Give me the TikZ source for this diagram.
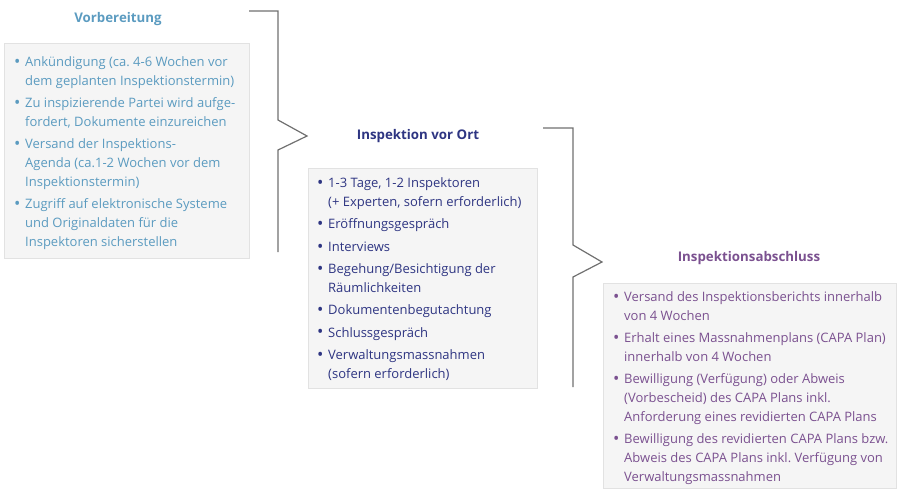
\documentclass[tikz,border=0pt]{standalone}
\usepackage{fontspec}
\setmainfont{Open Sans}
\frenchspacing
\definecolor{cblue}{HTML}{5B9BC0}
\definecolor{cnavy}{HTML}{2E3582}
\definecolor{cpurp}{HTML}{7B5190}
\definecolor{cline}{HTML}{707070}
\definecolor{cfill}{HTML}{F5F5F5}
\definecolor{cedge}{HTML}{E2E2E2}
\newcommand\bu{\makebox[11pt][l]{\raisebox{-0.9pt}{\scalebox{1.3}{\textbullet}}}}
\newcommand\ci{\hspace*{11pt}}
\tikzset{
  panel/.style={draw=cedge, fill=cfill, line width=1pt, anchor=north west, inner sep=0pt},
  title/.style={font=\fontsize{13.3}{15}\selectfont\bfseries, inner sep=0pt},
  list/.style={anchor=north west, inner sep=0pt, align=left, font=\fontsize{13}{19}\selectfont}
}
\tikzset{bracket/.style={draw=cline, line width=1.2pt}}
\begin{document}
\begin{tikzpicture}[x=1pt,y=-1pt]
\useasboundingbox (0,0) rectangle (903,491);
% panels
\node[panel, minimum width=245, minimum height=215] (p1) at (4,43) {};
\node[panel, minimum width=229, minimum height=220] (p2) at (308,168) {};
\node[panel, minimum width=293, minimum height=205] (p3) at (603,283) {};
% titles
\node[title, text=cblue] (t1) at (118,19) {Vorbereitung};
\node[title, text=cnavy] (t2) at (418,136) {Inspektion vor Ort};
\node[title, text=cpurp] (t3) at (749,258) {Inspektionsabschluss};
% lists
\node[list, text=cblue] (l1) at (14,56.5) {%
\bu Ankündigung (ca. 4-6 Wochen vor\\\ci dem geplanten Inspektionstermin)\\[3pt]
\bu Zu inspizierende Partei wird aufge-\\\ci fordert, Dokumente einzureichen\\[3pt]
\bu Versand der Inspektions-\\\ci Agenda (ca.1-2 Wochen vor dem\\\ci Inspektionstermin)\\[3pt]
\bu Zugriff auf elektronische Systeme\\\ci und Originaldaten für die\\\ci Inspektoren sicherstellen};
\node[list, text=cnavy] (l2) at (317,177.5) {%
\bu 1-3 Tage, 1-2 Inspektoren\\\ci (+ Experten, sofern erforderlich)\\[3.3pt]
\bu Eröffnungsgespräch\\[3.3pt]
\bu Interviews\\[3.3pt]
\bu Begehung/Besichtigung der\\\ci Räumlichkeiten\\[3.3pt]
\bu Dokumentenbegutachtung\\[3.3pt]
\bu Schlussgespräch\\[3.3pt]
\bu Verwaltungsmassnahmen\\\ci (sofern erforderlich)};
\node[list, text=cpurp] (l3) at (613,291.5) {%
\bu Versand des Inspektionsberichts innerhalb\\\ci von 4 Wochen\\[3pt]
\bu Erhalt eines Massnahmenplans (CAPA Plan)\\\ci innerhalb von 4 Wochen\\[3pt]
\bu Bewilligung (Verfügung) oder Abweis\\\ci (Vorbescheid) des CAPA Plans inkl.\\\ci Anforderung eines revidierten CAPA Plans\\[3pt]
\bu Bewilligung des revidierten CAPA Plans bzw.\\\ci Abweis des CAPA Plans inkl. Verfügung von\\\ci Verwaltungsmassnahmen};
% brackets
\coordinate (a0) at (249,11);
\coordinate (a1) at (278,11);
\coordinate (a2) at (278,120);
\coordinate (a3) at (307,136);
\coordinate (a4) at (278,150);
\coordinate (a5) at (278,252);
\draw[bracket] (a0) -- (a1) -- (a2) -- (a3) -- (a4) -- (a5);
\coordinate (b0) at (543,128);
\coordinate (b1) at (573,128);
\coordinate (b2) at (573,245);
\coordinate (b3) at (602,262);
\coordinate (b4) at (573,277);
\coordinate (b5) at (573,387);
\draw[bracket] (b0) -- (b1) -- (b2) -- (b3) -- (b4) -- (b5);
\end{tikzpicture}
\end{document}
